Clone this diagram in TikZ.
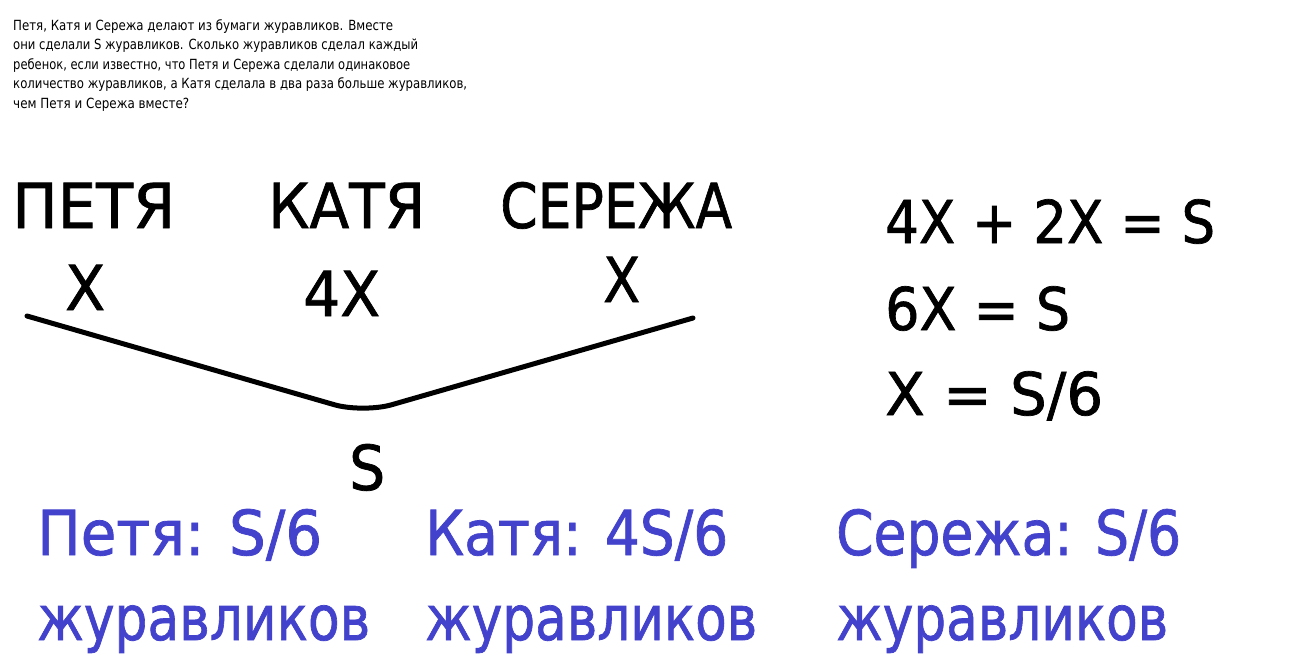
\documentclass[tikz,border=0pt]{standalone}
\usepackage{fontspec}
\setmainfont{DejaVu Sans}
\newfontfamily\thickfont{DejaVu Sans}[FakeBold=1.2]
\definecolor{ansblue}{RGB}{66,66,204}
\newcommand{\fitw}[2]{\resizebox{#1}{\height}{#2}}
\begin{document}
\begin{tikzpicture}[x=1pt,y=-1pt,
  big/.style={anchor=base west,inner sep=0pt,font=\thickfont\fontsize{62}{62}\selectfont},
  eq/.style={anchor=base west,inner sep=0pt,font=\thickfont\fontsize{59}{59}\selectfont},
  ans/.style={anchor=base west,inner sep=0pt,text=ansblue,font=\thickfont\fontsize{62}{62}\selectfont},
  para/.style={anchor=base west,inner sep=0pt,font=\fontsize{14}{14}\selectfont}]
\useasboundingbox (0,0) rectangle (1293,656);
\node[para] (t1) at (13,30) {\fitw{380pt}{Петя, Катя и Сережа делают из бумаги журавликов. Вместе}};
\node[para] (t2) at (13,49.5) {\fitw{405pt}{они сделали S журавликов. Сколько журавликов сделал каждый}};
\node[para] (t3) at (13,69) {\fitw{397pt}{ребенок, если известно, что Петя и Сережа сделали одинаковое}};
\node[para] (t4) at (13,88.5) {\fitw{454pt}{количество журавликов, а Катя сделала в два раза больше журавликов,}};
\node[para] (t5) at (13,108) {\fitw{176pt}{чем Петя и Сережа вместе?}};
\node[big] (p) at (12,228) {\fitw{163pt}{ПЕТЯ}};
\node[big] (k) at (268,228) {\fitw{157pt}{КАТЯ}};
\node[big] (s) at (500,228) {\fitw{232pt}{СЕРЕЖА}};
\node[big] (px) at (65,310) {\fitw{40pt}{X}};
\node[big] (kx) at (303,316) {\fitw{77pt}{4X}};
\node[big] (sx) at (603,302) {\fitw{37pt}{X}};
\draw[line width=5pt,line cap=round,rounded corners=30pt] (27,316) -- (363,413) -- (693,318);
\node[big] (sum) at (349,490) {\fitw{36pt}{S}};
\node[eq] (e1) at (885,243) {\fitw{330pt}{4X + 2X = S}};
\node[eq] (e2) at (885,330) {\fitw{185pt}{6X = S}};
\node[eq] (e3) at (885,415) {\fitw{218pt}{X = S/6}};
\node[ans] (a1) at (37,555) {\fitw{285pt}{Петя: S/6}};
\node[ans] (a1b) at (37,640) {\fitw{333pt}{журавликов}};
\node[ans] (a2) at (425,555) {\fitw{303pt}{Катя: 4S/6}};
\node[ans] (a2b) at (425,640) {\fitw{332pt}{журавликов}};
\node[ans] (a3) at (836,555) {\fitw{345pt}{Сережа: S/6}};
\node[ans] (a3b) at (836,640) {\fitw{332pt}{журавликов}};
\end{tikzpicture}
\end{document}
